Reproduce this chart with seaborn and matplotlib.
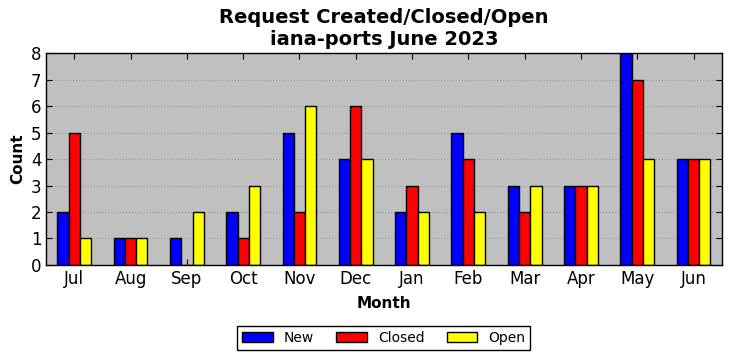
import pandas as pd
import matplotlib
matplotlib.use("Agg")
import matplotlib.pyplot as plt
import seaborn as sns

months = ["Jul", "Aug", "Sep", "Oct", "Nov", "Dec", "Jan", "Feb", "Mar", "Apr", "May", "Jun"]
new_counts = [2, 1, 1, 2, 5, 4, 2, 5, 3, 3, 8, 4]
closed_counts = [5, 1, 0, 1, 2, 6, 3, 4, 2, 3, 7, 4]
open_counts = [1, 1, 2, 3, 6, 4, 2, 2, 3, 3, 4, 4]

df = pd.DataFrame({"Month": months, "New": new_counts, "Closed": closed_counts, "Open": open_counts})
long_df = df.melt(id_vars="Month", var_name="Status", value_name="Count")

sns.set_style("ticks")
plt.rcParams["font.family"] = ["DejaVu Sans"]
plt.rcParams["text.color"] = "black"
plt.rcParams["axes.labelcolor"] = "black"
plt.rcParams["xtick.color"] = "black"
plt.rcParams["ytick.color"] = "black"

fig, ax = plt.subplots(figsize=(7.32, 3.61), dpi=100)
sns.barplot(data=long_df, x="Month", y="Count", hue="Status", order=months,
            hue_order=["New", "Closed", "Open"],
            palette={"New": "blue", "Closed": "red", "Open": "yellow"},
            width=0.6, gap=0, edgecolor="black", linewidth=1, saturation=1, ax=ax)

ax.set_facecolor("#c0c0c0")
ax.set_xlim(-0.5, 11.5)
ax.set_ylim(0, 8)
ax.set_yticks(range(0, 9))
ax.yaxis.grid(True, linestyle=":", color="#999999", linewidth=0.8)
ax.set_axisbelow(True)
ax.tick_params(direction="in", top=True, right=True, labelsize=12, length=4, colors="black")
for s in ax.spines.values():
    s.set_color("black")
    s.set_linewidth(1)

ax.set_title("Request Created/Closed/Open\niana-ports June 2023", fontsize=14, fontweight="bold",
             linespacing=1.2, color="black")
ax.set_xlabel("Month", fontsize=11, fontweight="bold", labelpad=6)
ax.set_ylabel("Count", fontsize=11, fontweight="bold")

ax.legend(loc="upper center", bbox_to_anchor=(0.5, -0.255), ncol=3, fontsize=10,
          frameon=True, fancybox=False, edgecolor="black", framealpha=1,
          handlelength=2.2, columnspacing=1.6, borderpad=0.35)
ax.get_legend().get_frame().set_linewidth(1)

fig.subplots_adjust(left=0.063, right=0.986, top=0.853, bottom=0.266)
fig.savefig("out.png", dpi=100)
